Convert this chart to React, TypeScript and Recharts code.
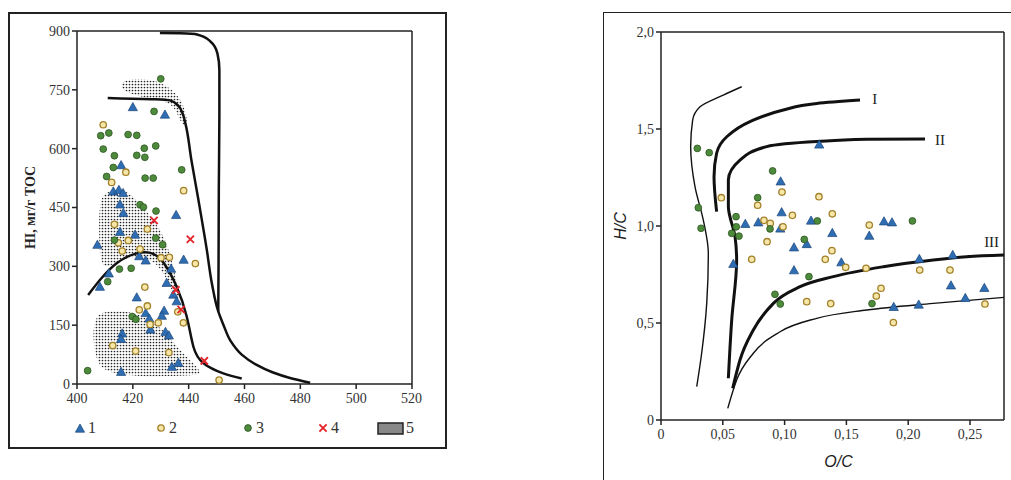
import React from 'react';
import { ComposedChart, Scatter, XAxis, YAxis, ReferenceLine, Label } from 'recharts';

// ---- left panel: Tmax (°C) vs HI ----
const tmaxTicks = [400, 420, 440, 460, 480, 500, 520];
const hiTicks = [0, 150, 300, 450, 600, 750, 900];

const hiType1 = [
  { x: 420, y: 705 }, { x: 431.5, y: 686 }, { x: 415.8, y: 557 }, { x: 413, y: 490 }, { x: 415, y: 494 },
  { x: 416.5, y: 486 }, { x: 415.4, y: 457 }, { x: 416.6, y: 435 }, { x: 435.5, y: 430 }, { x: 415.4, y: 387 },
  { x: 407.3, y: 354 }, { x: 420.8, y: 380 }, { x: 422.3, y: 325 }, { x: 424.6, y: 314 }, { x: 433.7, y: 293 },
  { x: 438.2, y: 316 }, { x: 411.4, y: 281 }, { x: 408.2, y: 247 }, { x: 432.1, y: 257 }, { x: 434.5, y: 227 },
  { x: 421.4, y: 220 }, { x: 435.7, y: 210 }, { x: 424.6, y: 180 }, { x: 431.2, y: 186 }, { x: 430.4, y: 173 },
  { x: 425.9, y: 166 }, { x: 426.3, y: 138 }, { x: 416.2, y: 128 }, { x: 415.8, y: 114 }, { x: 431.7, y: 132 },
  { x: 432.9, y: 123 }, { x: 434, y: 43 }, { x: 436.3, y: 53 }, { x: 415.8, y: 30 },
];
const hiType2 = [
  { x: 409.4, y: 661 }, { x: 417.5, y: 540 }, { x: 412.4, y: 514 }, { x: 438.2, y: 493 }, { x: 413.4, y: 407 },
  { x: 425.2, y: 395 }, { x: 414.8, y: 360 }, { x: 418.4, y: 366 }, { x: 416.2, y: 339 }, { x: 422.6, y: 344 },
  { x: 430.1, y: 322 }, { x: 433.1, y: 323 }, { x: 442.4, y: 307 }, { x: 424.3, y: 247 }, { x: 425.2, y: 199 },
  { x: 422.3, y: 189 }, { x: 436.1, y: 184 }, { x: 426.2, y: 152 }, { x: 429.1, y: 156 }, { x: 438.1, y: 156 },
  { x: 412.8, y: 98 }, { x: 421, y: 84 }, { x: 432.9, y: 80 }, { x: 450.9, y: 10 },
];
const hiType3 = [
  { x: 430, y: 778 }, { x: 427.6, y: 695 }, { x: 408.5, y: 633 }, { x: 411.4, y: 640 }, { x: 418.3, y: 636 },
  { x: 421.4, y: 634 }, { x: 409.4, y: 599 }, { x: 424.1, y: 601 }, { x: 428.2, y: 607 }, { x: 413.4, y: 582 },
  { x: 421.4, y: 583 }, { x: 424.3, y: 578 }, { x: 413, y: 552 }, { x: 410.6, y: 529 }, { x: 424.4, y: 525 },
  { x: 427.3, y: 525 }, { x: 437.5, y: 546 }, { x: 422.6, y: 457 }, { x: 423.8, y: 451 }, { x: 428.3, y: 441 },
  { x: 413.4, y: 367 }, { x: 428.2, y: 372 }, { x: 430.7, y: 355 }, { x: 415.2, y: 293 }, { x: 419.4, y: 295 },
  { x: 411, y: 261 }, { x: 419.8, y: 172 }, { x: 421.1, y: 165 }, { x: 403.8, y: 34 },
];
const hiType4 = [
  { x: 427.6, y: 417 }, { x: 440.6, y: 369 }, { x: 435.4, y: 240 }, { x: 437.3, y: 190 }, { x: 445.6, y: 59 },
];

// boundary curves, bottom to top where they are monotone in HI
const outerBoundary = [
  { x: 450.6, y: 185 }, { x: 450.7, y: 300 }, { x: 450.8, y: 500 }, { x: 451, y: 700 }, { x: 451, y: 800 },
  { x: 450.3, y: 843 }, { x: 447.7, y: 874 }, { x: 443, y: 891 }, { x: 437, y: 894 }, { x: 429.7, y: 895 },
];
const innerBoundary = [
  { x: 483.5, y: 3 }, { x: 476, y: 16 }, { x: 470, y: 30 }, { x: 464, y: 50 }, { x: 459, y: 75 },
  { x: 455, y: 110 }, { x: 452.5, y: 150 }, { x: 450.6, y: 185 }, { x: 448.3, y: 257 }, { x: 446.5, y: 342 },
  { x: 443.5, y: 469 }, { x: 441, y: 570 }, { x: 438.8, y: 665 }, { x: 437.8, y: 690 }, { x: 436.2, y: 710 },
  { x: 433.3, y: 723 }, { x: 428, y: 726 }, { x: 420, y: 727 }, { x: 411, y: 729 },
];
const archBoundary = [
  { x: 404, y: 227 }, { x: 408.2, y: 265 }, { x: 414.2, y: 308 }, { x: 421.4, y: 333 }, { x: 427.3, y: 332 },
  { x: 431.5, y: 304 }, { x: 435.7, y: 248 }, { x: 439.3, y: 172 }, { x: 441.7, y: 95 }, { x: 445.3, y: 53 },
  { x: 452.4, y: 27 }, { x: 459, y: 14 },
];

// stippled fields (field 5)
const fieldTop = [
  { x: 415.4, y: 771 }, { x: 421.4, y: 780 }, { x: 428.6, y: 774 }, { x: 434.5, y: 750 }, { x: 438.1, y: 716 },
  { x: 439.9, y: 665 }, { x: 438.1, y: 656 }, { x: 436.3, y: 682 }, { x: 434.5, y: 712 }, { x: 429.7, y: 724 },
  { x: 423.8, y: 731 }, { x: 416, y: 746 },
];
const fieldMiddle = [
  { x: 408, y: 470 }, { x: 410.5, y: 490 }, { x: 414.5, y: 497 }, { x: 418.5, y: 490 }, { x: 421.5, y: 466 },
  { x: 425, y: 440 }, { x: 428, y: 412 }, { x: 431, y: 378 }, { x: 433.3, y: 333 }, { x: 434.8, y: 290 },
  { x: 436.3, y: 240 }, { x: 436.8, y: 215 }, { x: 434.8, y: 225 }, { x: 432.5, y: 262 }, { x: 429.5, y: 300 },
  { x: 425.5, y: 322 }, { x: 419, y: 326 }, { x: 413, y: 306 }, { x: 408.5, y: 290 }, { x: 407.8, y: 380 },
];
const fieldBottom = [
  { x: 408.2, y: 184 }, { x: 415.4, y: 187 }, { x: 421.4, y: 180 }, { x: 427.3, y: 159 }, { x: 432.1, y: 129 },
  { x: 435.7, y: 95 }, { x: 440.5, y: 61 }, { x: 445.3, y: 27 }, { x: 441.7, y: 22 }, { x: 432, y: 20 },
  { x: 423.8, y: 19 }, { x: 409.4, y: 27 }, { x: 406.5, y: 70 }, { x: 405.6, y: 129 }, { x: 406.5, y: 163 },
];

// ---- right panel: O/C vs H/C (Van Krevelen) ----
const ocTicks = [0, 0.05, 0.1, 0.15, 0.2, 0.25];
const hcTicks = [0, 0.5, 1, 1.5, 2];

const vkType1 = [
  { x: 0.128, y: 1.418 }, { x: 0.0968, y: 1.228 }, { x: 0.0976, y: 1.069 }, { x: 0.0787, y: 1.017 },
  { x: 0.0682, y: 1.009 }, { x: 0.1214, y: 1.026 }, { x: 0.1804, y: 1.022 }, { x: 0.1869, y: 1.017 },
  { x: 0.0965, y: 0.985 }, { x: 0.1386, y: 0.962 }, { x: 0.1685, y: 0.948 }, { x: 0.1179, y: 0.905 },
  { x: 0.1076, y: 0.888 }, { x: 0.0585, y: 0.803 }, { x: 0.1459, y: 0.811 }, { x: 0.1076, y: 0.77 },
  { x: 0.209, y: 0.828 }, { x: 0.236, y: 0.849 }, { x: 0.2346, y: 0.692 }, { x: 0.2616, y: 0.679 },
  { x: 0.2462, y: 0.627 }, { x: 0.1883, y: 0.581 }, { x: 0.2085, y: 0.593 },
];
const vkType2 = [
  { x: 0.0979, y: 1.175 }, { x: 0.1278, y: 1.151 }, { x: 0.0488, y: 1.146 }, { x: 0.0782, y: 1.107 },
  { x: 0.1063, y: 1.055 }, { x: 0.1386, y: 1.063 }, { x: 0.0833, y: 1.029 }, { x: 0.0884, y: 1.014 },
  { x: 0.1685, y: 1.005 }, { x: 0.0987, y: 0.996 }, { x: 0.0858, y: 0.919 }, { x: 0.1383, y: 0.873 },
  { x: 0.0734, y: 0.828 }, { x: 0.1329, y: 0.828 }, { x: 0.1494, y: 0.787 }, { x: 0.1659, y: 0.782 },
  { x: 0.2093, y: 0.773 }, { x: 0.2338, y: 0.773 }, { x: 0.178, y: 0.679 }, { x: 0.1742, y: 0.639 },
  { x: 0.1179, y: 0.61 }, { x: 0.1373, y: 0.6 }, { x: 0.2621, y: 0.598 }, { x: 0.188, y: 0.502 },
];
const vkType3 = [
  { x: 0.0294, y: 1.4 }, { x: 0.039, y: 1.378 }, { x: 0.0903, y: 1.284 }, { x: 0.0782, y: 1.146 },
  { x: 0.0302, y: 1.094 }, { x: 0.0607, y: 1.048 }, { x: 0.1265, y: 1.026 }, { x: 0.2034, y: 1.026 },
  { x: 0.0609, y: 0.996 }, { x: 0.0324, y: 0.988 }, { x: 0.0882, y: 0.985 }, { x: 0.0572, y: 0.962 },
  { x: 0.0631, y: 0.948 }, { x: 0.1159, y: 0.931 }, { x: 0.1197, y: 0.739 }, { x: 0.0922, y: 0.648 },
  { x: 0.0965, y: 0.598 }, { x: 0.1707, y: 0.6 },
];

const vkLeftThin = [
  { x: 0.0289, y: 0.172 }, { x: 0.0329, y: 0.344 }, { x: 0.037, y: 0.601 }, { x: 0.0383, y: 0.859 },
  { x: 0.0342, y: 1.031 }, { x: 0.0275, y: 1.203 }, { x: 0.024, y: 1.409 }, { x: 0.0256, y: 1.546 },
  { x: 0.0316, y: 1.615 }, { x: 0.0504, y: 1.675 }, { x: 0.0653, y: 1.718 },
];
const vkCurveI = [
  { x: 0.045, y: 1.074 }, { x: 0.0429, y: 1.254 }, { x: 0.045, y: 1.375 }, { x: 0.0532, y: 1.46 },
  { x: 0.072, y: 1.538 }, { x: 0.099, y: 1.598 }, { x: 0.126, y: 1.632 }, { x: 0.161, y: 1.649 },
];
const vkCurveII = [
  { x: 0.0545, y: 0.215 }, { x: 0.0572, y: 0.515 }, { x: 0.0612, y: 0.825 }, { x: 0.0599, y: 0.945 },
  { x: 0.0545, y: 1.1 }, { x: 0.0545, y: 1.237 }, { x: 0.0639, y: 1.34 }, { x: 0.0855, y: 1.409 },
  { x: 0.126, y: 1.435 }, { x: 0.1664, y: 1.447 }, { x: 0.2136, y: 1.448 },
];
const vkCurveIII = [
  { x: 0.058, y: 0.163 }, { x: 0.0639, y: 0.309 }, { x: 0.0747, y: 0.464 }, { x: 0.0909, y: 0.601 },
  { x: 0.1125, y: 0.687 }, { x: 0.1394, y: 0.739 }, { x: 0.1799, y: 0.79 }, { x: 0.2203, y: 0.825 },
  { x: 0.2473, y: 0.842 }, { x: 0.2775, y: 0.851 },
];
const vkLowerThin = [
  { x: 0.054, y: 0.06 }, { x: 0.0612, y: 0.206 }, { x: 0.0747, y: 0.344 }, { x: 0.0963, y: 0.455 },
  { x: 0.126, y: 0.524 }, { x: 0.1664, y: 0.567 }, { x: 0.2203, y: 0.601 }, { x: 0.2775, y: 0.632 },
];
const vkTypeLabels = [
  { x: 0.173, y: 1.655, name: 'I' },
  { x: 0.2257, y: 1.443, name: 'II' },
  { x: 0.2675, y: 0.919, name: 'III' },
];

const legendItems = ['1', '2', '3', '4', '5'];

const serif = '"Liberation Serif", "Times New Roman", serif';
const tickStyle = { fill: '#333', fontSize: 14, fontFamily: serif };
const axisStroke = { stroke: '#222', strokeWidth: 1.5 };

const Triangle = ({ cx, cy }: any) => (
  <path d={`M${cx},${cy - 5}L${cx + 4.6},${cy + 3.2}L${cx - 4.6},${cy + 3.2}Z`} fill="#2f6db2" stroke="#1b467a" strokeWidth={0.7} />
);
const Ring = ({ cx, cy }: any) => (
  <circle cx={cx} cy={cy} r={3.2} fill="#f6e6a8" stroke="#a2812a" strokeWidth={1.3} />
);
const Dot = ({ cx, cy }: any) => (
  <circle cx={cx} cy={cy} r={3.4} fill="#4e8a3b" stroke="#2b5520" strokeWidth={0.8} />
);
const Cross = ({ cx, cy }: any) => (
  <path d={`M${cx - 3.6},${cy - 3.6}L${cx + 3.6},${cy + 3.6}M${cx + 3.6},${cy - 3.6}L${cx - 3.6},${cy + 3.6}`} stroke="#e3262c" strokeWidth={1.9} />
);
const Blank = () => <g />;
const Roman = (p: any) => (
  <text x={p.cx} y={p.cy} dy={5} textAnchor="middle" fontFamily={serif} fontSize={15} fill="#222">
    {p.payload?.name ?? p.name}
  </text>
);

const commaFmt = (v: number) => (v === 0 ? '0' : v.toFixed(2).replace('.', ','));
const hcFmt = (v: number) => (v === 0 ? '0' : v.toFixed(1).replace('.', ','));

const curve = (data: any[], type: any, width: number) => (
  <Scatter
    data={data}
    shape={Blank}
    line={{ stroke: '#111', strokeWidth: width, fill: 'none' }}
    lineJointType={type}
    isAnimationActive={false}
  />
);
const field = (data: any[]) => (
  <Scatter
    data={data}
    shape={Blank}
    line={{ stroke: 'none', fill: 'url(#stipple)' }}
    lineJointType="basisClosed"
    isAnimationActive={false}
  />
);

const LegendIcon = ({ k }: { k: string }) => {
  if (k === '1') return <svg width={12} height={12}><Triangle cx={6} cy={7} /></svg>;
  if (k === '2') return <svg width={12} height={12}><Ring cx={6} cy={6} /></svg>;
  if (k === '3') return <svg width={12} height={12}><Dot cx={6} cy={6} /></svg>;
  if (k === '4') return <svg width={12} height={12}><Cross cx={6} cy={6} /></svg>;
  return (
    <svg width={27} height={13}>
      <defs>
        <pattern id="stippleLegend" width={2} height={2} patternUnits="userSpaceOnUse">
          <rect width={2} height={2} fill="#d8d8d8" />
          <circle cx={1} cy={1} r={0.75} fill="#111" />
        </pattern>
      </defs>
      <rect x={1} y={1} width={25} height={11} fill="url(#stippleLegend)" stroke="#222" strokeWidth={1.5} />
    </svg>
  );
};

const legendX = [74, 155, 242, 317, 377];

export default function App() {
  return (
    <div style={{ position: 'absolute', left: 0, top: 0, width: 1011, height: 480, overflow: 'hidden', background: '#fff', fontFamily: serif }}>
      <div style={{ position: 'absolute', left: 8, top: 12, width: 435, height: 433, border: '2px solid #222' }} />
      <div style={{ position: 'absolute', left: 603, top: 12, width: 500, height: 500, border: '1.5px solid #222' }} />

      <div style={{ position: 'absolute', left: 20, top: 20 }}>
        <ComposedChart width={402} height={394} margin={{ top: 11, right: 10, left: 0, bottom: 0 }} style={{ fontFamily: serif }}>
          <defs>
            <pattern id="stipple" width={3} height={3} patternUnits="userSpaceOnUse">
              <circle cx={1.5} cy={1.5} r={0.85} fill="#222" />
            </pattern>
          </defs>
          <XAxis type="number" dataKey="x" domain={[400, 520]} ticks={tmaxTicks} allowDataOverflow
            height={30} tick={tickStyle} tickSize={5} tickMargin={4} axisLine={axisStroke} tickLine={axisStroke} />
          <YAxis type="number" dataKey="y" domain={[0, 900]} ticks={hiTicks} allowDataOverflow
            width={57} tick={tickStyle} tickSize={5} axisLine={axisStroke} tickLine={axisStroke}>
            <Label value="HI, мг/г TOC" angle={-90} position="insideLeft" offset={10}
              style={{ fontFamily: serif, fontSize: 14, fontWeight: 'bold', fill: '#222', textAnchor: 'middle' }} />
          </YAxis>
          <ReferenceLine y={900} stroke="#222" strokeWidth={1.5} />
          <ReferenceLine x={520} stroke="#222" strokeWidth={1.5} />
          {field(fieldTop)}
          {field(fieldMiddle)}
          {field(fieldBottom)}
          {curve(outerBoundary, 'monotoneY', 2.5)}
          {curve(innerBoundary, 'monotoneY', 2.5)}
          {curve(archBoundary, 'natural', 2.5)}
          <Scatter name="1" data={hiType1} shape={Triangle} isAnimationActive={false} />
          <Scatter name="2" data={hiType2} shape={Ring} isAnimationActive={false} />
          <Scatter name="3" data={hiType3} shape={Dot} isAnimationActive={false} />
          <Scatter name="4" data={hiType4} shape={Cross} isAnimationActive={false} />
        </ComposedChart>
      </div>

      {legendItems.map((k, i) => (
        <div key={k} style={{ position: 'absolute', left: legendX[i], top: 419, display: 'flex', alignItems: 'center', gap: 2, fontSize: 16, color: '#333' }}>
          <LegendIcon k={k} />
          <span>{k}</span>
        </div>
      ))}

      <div style={{ position: 'absolute', left: 610, top: 20 }}>
        <ComposedChart width={399} height={450} margin={{ top: 12, right: 5, left: 0, bottom: 0 }} style={{ fontFamily: serif }}>
          <XAxis type="number" dataKey="x" domain={[0, 0.2775]} ticks={ocTicks} allowDataOverflow
            height={50} tick={tickStyle} tickSize={5} tickMargin={4} axisLine={axisStroke} tickLine={axisStroke} tickFormatter={commaFmt}>
            <Label value="O/C" position="insideBottom" offset={3} dx={6}
              style={{ fontFamily: '"Liberation Sans", Arial, sans-serif', fontStyle: 'italic', fontSize: 16, fill: '#222' }} />
          </XAxis>
          <YAxis type="number" dataKey="y" domain={[0, 2]} ticks={hcTicks} allowDataOverflow
            width={51} tick={tickStyle} tickSize={5} axisLine={axisStroke} tickLine={axisStroke} tickFormatter={hcFmt}>
            <Label value="H/C" angle={-90} position="insideLeft" offset={10}
              style={{ fontFamily: '"Liberation Sans", Arial, sans-serif', fontStyle: 'italic', fontSize: 16, fill: '#222', textAnchor: 'middle' }} />
          </YAxis>
          <ReferenceLine y={2} stroke="#222" strokeWidth={1.5} />
          <ReferenceLine x={0.2775} stroke="#222" strokeWidth={1.5} />
          {curve(vkLeftThin, 'monotoneY', 1.4)}
          {curve(vkCurveI, 'monotoneY', 3)}
          {curve(vkCurveII, 'monotoneY', 3)}
          {curve(vkCurveIII, 'monotoneX', 3)}
          {curve(vkLowerThin, 'monotoneX', 1.4)}
          <Scatter data={vkTypeLabels} shape={Roman} isAnimationActive={false} />
          <Scatter name="1" data={vkType1} shape={Triangle} isAnimationActive={false} />
          <Scatter name="2" data={vkType2} shape={Ring} isAnimationActive={false} />
          <Scatter name="3" data={vkType3} shape={Dot} isAnimationActive={false} />
        </ComposedChart>
      </div>
    </div>
  );
}
